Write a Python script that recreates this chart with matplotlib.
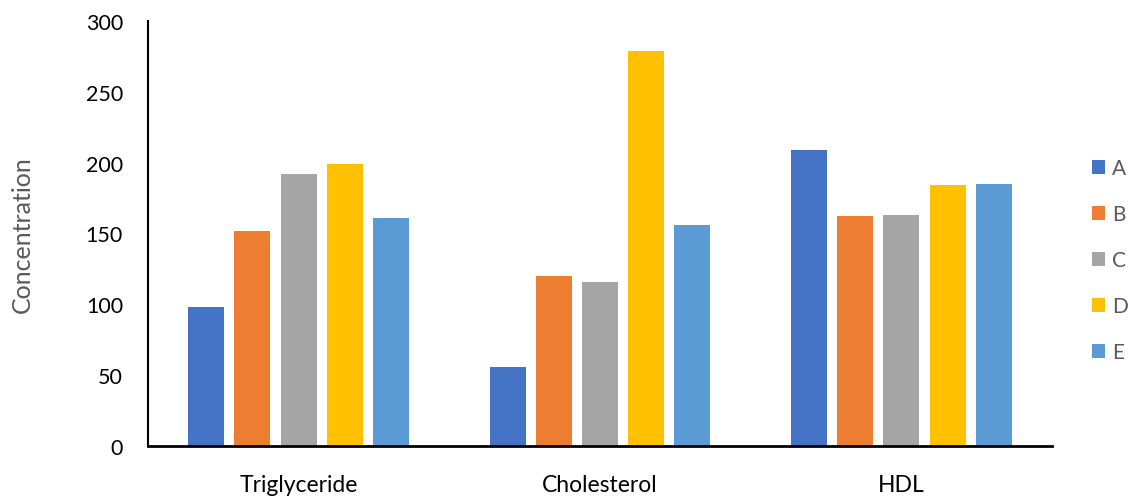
import numpy as np
import matplotlib.pyplot as plt

categories = ["Triglyceride", "Cholesterol", "HDL"]
series = ["A", "B", "C", "D", "E"]
values_a = [98, 56, 209]
values_b = [152, 120, 162]
values_c = [192, 116, 163]
values_d = [199, 279, 184]
values_e = [161, 156, 185]
yticks = [0, 50, 100, 150, 200, 250, 300]

colors = ["#4472C4", "#ED7D31", "#A5A5A5", "#FFC000", "#5B9BD5"]
data = [values_a, values_b, values_c, values_d, values_e]

plt.rcParams['font.family'] = ['Lato', 'DejaVu Sans']

fig = plt.figure(figsize=(11.3, 5.02), dpi=100)
ax = fig.add_axes([0.131, 0.110, 0.800, 0.846])

x = np.arange(len(categories))
slot = 0.1534
width = 0.1195
for i, (name, vals) in enumerate(zip(series, data)):
    ax.bar(x + (i - 2) * slot, vals, width, color=colors[i], label=name)

ax.set_xlim(-0.5, 2.5)
ax.set_ylim(0, 300)
ax.set_xticks(x)
ax.set_xticklabels(categories, fontsize=16.5)
ax.set_yticks(yticks)
ax.tick_params(axis='y', labelsize=15.5, length=0, pad=18)
ax.tick_params(axis='x', length=0, pad=20)
for s in ["top", "right"]:
    ax.spines[s].set_visible(False)
ax.spines["left"].set_linewidth(1.5)
ax.spines["bottom"].set_linewidth(2)
ax.set_ylabel("Concentration", fontsize=18, color="#595959")
ax.yaxis.set_label_coords(-0.126, 0.5)

fig.legend(loc="center left", bbox_to_anchor=(0.966, 0.48), frameon=False,
           fontsize=15, handlelength=0.65, handleheight=0.65, handletextpad=0.35,
           labelspacing=1.25, labelcolor="#595959", borderaxespad=0, borderpad=0)

fig.savefig("out.png", dpi=100)
